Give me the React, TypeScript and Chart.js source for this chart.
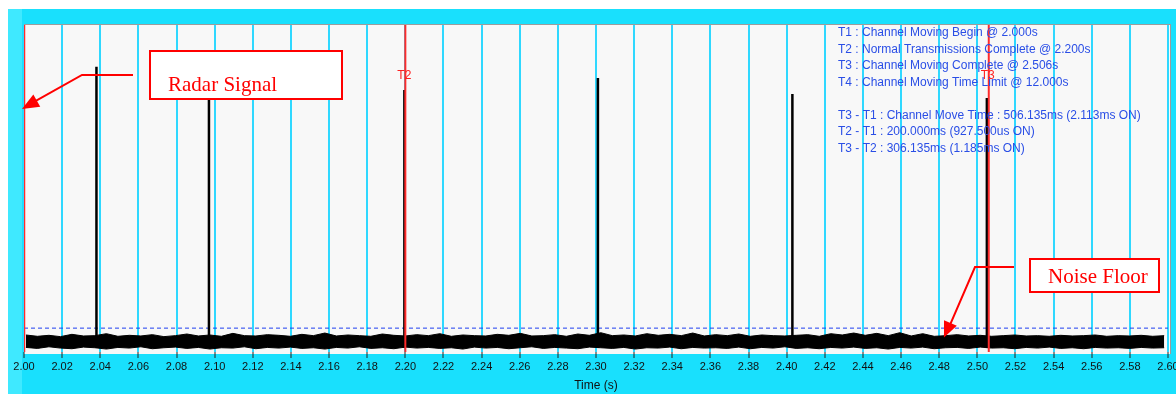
import React, { useEffect, useRef } from "react";
import { Chart, registerables } from "chart.js";

Chart.register(...registerables);

// ---- data ----
const xMin = 2.0;
const xMax = 2.6;
const xStep = 0.02;

const pulseTimes = [2.038, 2.097, 2.1995, 2.301, 2.403, 2.505];
const pulseTops = [87.2, 82.0, 80.1, 83.8, 78.9, 77.7];
const pulseBase = 1.2;

const markerNames = ["T1", "T2", "T3"];
const markerTimes = [2.0, 2.2, 2.506];
const markerLabelShown = [false, true, true];

const noiseFloorLevel = 7.3;
const noiseStart = 2.001;
const noiseEnd = 2.598;
const noiseUpper = [
  5.2, 4.8, 5.1, 4.7, 5.4, 4.9, 5.0, 5.6, 4.8, 5.1, 4.9, 5.3, 4.7, 5.0, 5.5, 4.9, 5.2, 4.8, 5.7, 5.0,
  4.9, 5.3, 5.1, 4.8, 5.4, 5.0, 5.8, 4.9, 5.2, 5.0, 4.8, 5.5, 5.1, 4.9, 5.3, 5.0, 5.6, 4.8, 5.2, 5.0,
  4.9, 5.4, 5.1, 5.7, 4.9, 5.0, 5.3, 4.8, 5.5, 5.1, 5.9, 5.0, 5.2, 4.9, 5.6, 5.1, 5.4, 5.0, 5.8, 4.9,
  5.3, 5.0, 5.5, 4.8, 5.2, 5.0, 4.9, 5.1, 5.3, 4.8, 5.6, 5.2, 5.8, 5.1, 5.7, 5.0, 5.9, 4.9, 5.6, 4.8,
  5.0, 5.3, 4.9, 5.1, 4.8, 5.0, 5.2, 4.9, 5.0, 4.8, 5.1, 4.9, 5.0, 5.2, 4.8, 5.0, 4.9, 5.1, 4.8, 5.0,
];
const noiseLower = [
  1.4, 1.1, 1.6, 1.2, 1.0, 1.5, 1.3, 0.9, 1.4, 1.2, 1.6, 1.0, 1.3, 1.5, 1.1, 1.4, 0.9, 1.3, 1.2, 1.6,
  1.0, 1.4, 1.2, 1.5, 1.1, 1.3, 0.9, 1.4, 1.2, 1.6, 1.1, 1.3, 1.0, 1.5, 1.2, 1.4, 1.1, 1.3, 0.9, 1.5,
  1.2, 1.4, 1.0, 1.3, 1.6, 1.1, 1.4, 1.2, 1.0, 1.5, 1.3, 1.1, 1.4, 0.9, 1.3, 1.2, 1.5, 1.0, 1.4, 1.2,
  1.3, 1.1, 1.5, 1.0, 1.4, 1.2, 1.6, 1.1, 1.3, 1.0, 1.4, 1.2, 1.5, 1.1, 1.3, 0.9, 1.4, 1.2, 1.5, 1.0,
  1.3, 1.4, 1.1, 1.5, 1.2, 1.3, 1.0, 1.4, 1.2, 1.5, 1.1, 1.3, 1.0, 1.4, 1.2, 1.3, 1.1, 1.4, 1.2, 1.3,
];

const infoLines = [
  "T1 : Channel Moving Begin @ 2.000s",
  "T2 : Normal Transmissions Complete @ 2.200s",
  "T3 : Channel Moving Complete @ 2.506s",
  "T4 : Channel Moving Time Limit @ 12.000s",
  "",
  "T3 - T1 : Channel Move Time : 506.135ms (2.113ms ON)",
  "T2 - T1 : 200.000ms (927.500us ON)",
  "T3 - T2 : 306.135ms (1.185ms ON)",
];

const xAxisTitle = "Time (s)";
const radarCallout = "Radar Signal";
const noiseCallout = "Noise Floor";
const radarArrowTarget = { x: 2.0, y: 74.3 };
const noiseArrowTarget = { x: 2.4825, y: 4.4 };

// ---- helpers ----
function arrowHead(ctx: CanvasRenderingContext2D, fx: number, fy: number, tx: number, ty: number, len: number, half: number) {
  const ang = Math.atan2(ty - fy, tx - fx);
  const bx = tx - Math.cos(ang) * len;
  const by = ty - Math.sin(ang) * len;
  const px = -Math.sin(ang) * half;
  const py = Math.cos(ang) * half;
  ctx.beginPath();
  ctx.moveTo(tx, ty);
  ctx.lineTo(bx + px, by + py);
  ctx.lineTo(bx - px, by - py);
  ctx.closePath();
  ctx.fill();
}

const framePlugin = {
  id: "frame",
  beforeDraw(chart: any) {
    const { ctx, chartArea: a, width, height } = chart;
    ctx.save();
    ctx.fillStyle = "#19e0fd";
    ctx.fillRect(0, 1, width, height);
    ctx.fillStyle = "#3fe9ff";
    ctx.fillRect(0, 1, 14, height);
    ctx.fillStyle = "#f8f8f8";
    ctx.fillRect(a.left, a.top, a.right - a.left + 2, a.bottom - a.top + 2);
    ctx.fillStyle = "#9c9c9c";
    ctx.fillRect(a.left, a.top - 1, a.right - a.left + 3, 1);
    ctx.fillRect(a.right + 2, a.top - 1, 1, a.bottom - a.top + 3);
    ctx.restore();
  },
  afterDatasetsDraw(chart: any) {
    const { ctx, chartArea: a, scales } = chart;
    ctx.save();
    ctx.fillStyle = "#ff2020";
    ctx.font = "12px 'Liberation Sans', Arial, sans-serif";
    ctx.textAlign = "center";
    ctx.textBaseline = "middle";
    markerTimes.forEach((t, i) => {
      if (!markerLabelShown[i]) return;
      ctx.fillText(markerNames[i], scales.x.getPixelForValue(t) - 1, a.top + 51);
    });
    ctx.restore();
  },
  afterDraw(chart: any) {
    const { ctx, chartArea: a, scales } = chart;
    ctx.save();
    // info text
    ctx.fillStyle = "#2a4ee6";
    ctx.font = "12px 'Liberation Sans', Arial, sans-serif";
    ctx.textAlign = "left";
    ctx.textBaseline = "middle";
    infoLines.forEach((s, i) => {
      if (s) ctx.fillText(s, a.left + 814, a.top + 8 + i * 16.5);
    });

    const drawBox = (x: number, y: number, w: number, h: number, text: string, tx: number, ty: number) => {
      ctx.fillStyle = "#ffffff";
      ctx.fillRect(x, y, w, h);
      ctx.strokeStyle = "#ff0000";
      ctx.lineWidth = 2;
      ctx.strokeRect(x, y, w, h);
      ctx.fillStyle = "#ff0000";
      ctx.font = "21px 'Liberation Serif', 'Times New Roman', serif";
      ctx.textAlign = "left";
      ctx.textBaseline = "alphabetic";
      ctx.fillText(text, tx, ty);
    };

    // radar callout
    ctx.strokeStyle = "#ff0000";
    ctx.fillStyle = "#ff0000";
    ctx.lineWidth = 2;
    const rtx = scales.x.getPixelForValue(radarArrowTarget.x) - 2;
    const rty = scales.y.getPixelForValue(radarArrowTarget.y);
    const rk = { x: a.left + 58, y: a.top + 50 };
    ctx.beginPath();
    ctx.moveTo(a.left + 109, a.top + 50);
    ctx.lineTo(rk.x, rk.y);
    ctx.lineTo(rtx + 8, rty - 5);
    ctx.stroke();
    arrowHead(ctx, rk.x, rk.y, rtx, rty, 17, 7);
    drawBox(a.left + 126, a.top + 26, 192, 48, radarCallout, a.left + 144, a.top + 66);

    // noise callout
    const ntx = scales.x.getPixelForValue(noiseArrowTarget.x);
    const nty = scales.y.getPixelForValue(noiseArrowTarget.y);
    const nk = { x: a.left + 951, y: a.top + 242 };
    ctx.strokeStyle = "#ff0000";
    ctx.fillStyle = "#ff0000";
    ctx.lineWidth = 2;
    ctx.beginPath();
    ctx.moveTo(a.left + 990, a.top + 242);
    ctx.lineTo(nk.x, nk.y);
    ctx.lineTo(ntx + 4, nty - 8);
    ctx.stroke();
    arrowHead(ctx, nk.x, nk.y, ntx, nty, 16, 7);
    drawBox(a.left + 1006, a.top + 234, 129, 33, noiseCallout, a.left + 1024, a.top + 258);
    ctx.restore();
  },
};

export default function App() {
  const ref = useRef<HTMLCanvasElement | null>(null);

  useEffect(() => {
    if (!ref.current) return;

    const noiseStep = (noiseEnd - noiseStart) / (noiseUpper.length - 1);
    const upperPts = noiseUpper.map((v, i) => ({ x: noiseStart + i * noiseStep, y: v }));
    const lowerPts = noiseLower.map((v, i) => ({ x: noiseStart + i * noiseStep, y: v }));

    const pulsePts: any[] = [];
    pulseTimes.forEach((t, i) => {
      pulsePts.push({ x: t, y: pulseBase }, { x: t, y: pulseTops[i] }, { x: t, y: null });
    });

    const markerSets = markerTimes.map((t, i) => ({
      type: "line" as const,
      label: markerNames[i],
      data: [
        { x: t, y: 0 },
        { x: t, y: 100 },
      ],
      borderColor: "#ff2b2b",
      borderWidth: i === 0 ? 2.5 : 2,
      pointRadius: 0,
      order: 1,
    }));

    const chart = new Chart(ref.current, {
      type: "line",
      data: {
        datasets: [
          ...markerSets,
          {
            label: "pulses",
            data: pulsePts,
            borderColor: "#000000",
            borderWidth: 2.5,
            pointRadius: 0,
            spanGaps: false,
            order: 2,
          },
          {
            label: "noiseUpper",
            data: upperPts,
            borderColor: "#000000",
            borderWidth: 1,
            pointRadius: 0,
            fill: false,
            order: 3,
          },
          {
            label: "noiseLower",
            data: lowerPts,
            borderColor: "#000000",
            borderWidth: 1,
            backgroundColor: "#000000",
            pointRadius: 0,
            fill: "-1",
            order: 3,
          },
          {
            label: "noiseFloor",
            data: [
              { x: xMin, y: noiseFloorLevel },
              { x: xMax, y: noiseFloorLevel },
            ],
            borderColor: "#1f3ff0",
            borderWidth: 1,
            borderDash: [4, 3],
            pointRadius: 0,
            order: 4,
          },
        ] as any,
      },
      options: {
        animation: false,
        responsive: false,
        parsing: true,
        layout: { padding: { left: 16, top: 17, right: 8, bottom: 0 } },
        plugins: {
          legend: { display: false },
          tooltip: { enabled: false },
          filler: { propagate: false },
        },
        scales: {
          x: {
            type: "linear",
            min: xMin,
            max: xMax,
            afterFit: (scale: any) => {
              scale.height = 42;
              scale.paddingLeft = 0;
              scale.paddingRight = 0;
            },
            grid: {
              color: "#2fd8ff",
              lineWidth: 2,
              drawTicks: true,
              tickLength: 6,
              tickColor: "#222222",
              tickWidth: 1,
            },
            border: { display: false },
            ticks: {
              stepSize: xStep,
              autoSkip: false,
              maxRotation: 0,
              padding: 2,
              color: "#111111",
              font: { family: "'Liberation Sans', Arial, sans-serif", size: 11 },
              callback: (v: any) => Number(v).toFixed(2),
            },
            title: {
              display: true,
              text: xAxisTitle,
              color: "#111111",
              font: { family: "'Liberation Sans', Arial, sans-serif", size: 12 },
              padding: { top: 0, bottom: 1 },
            },
          },
          y: {
            type: "linear",
            display: false,
            min: 0,
            max: 100,
          },
        },
      },
      plugins: [framePlugin],
    });

    return () => chart.destroy();
  }, []);

  return (
    <div style={{ position: "fixed", left: 8, top: 8, width: 1168, height: 386 }}>
      <canvas ref={ref} width={1168} height={386} style={{ display: "block" }} />
    </div>
  );
}
